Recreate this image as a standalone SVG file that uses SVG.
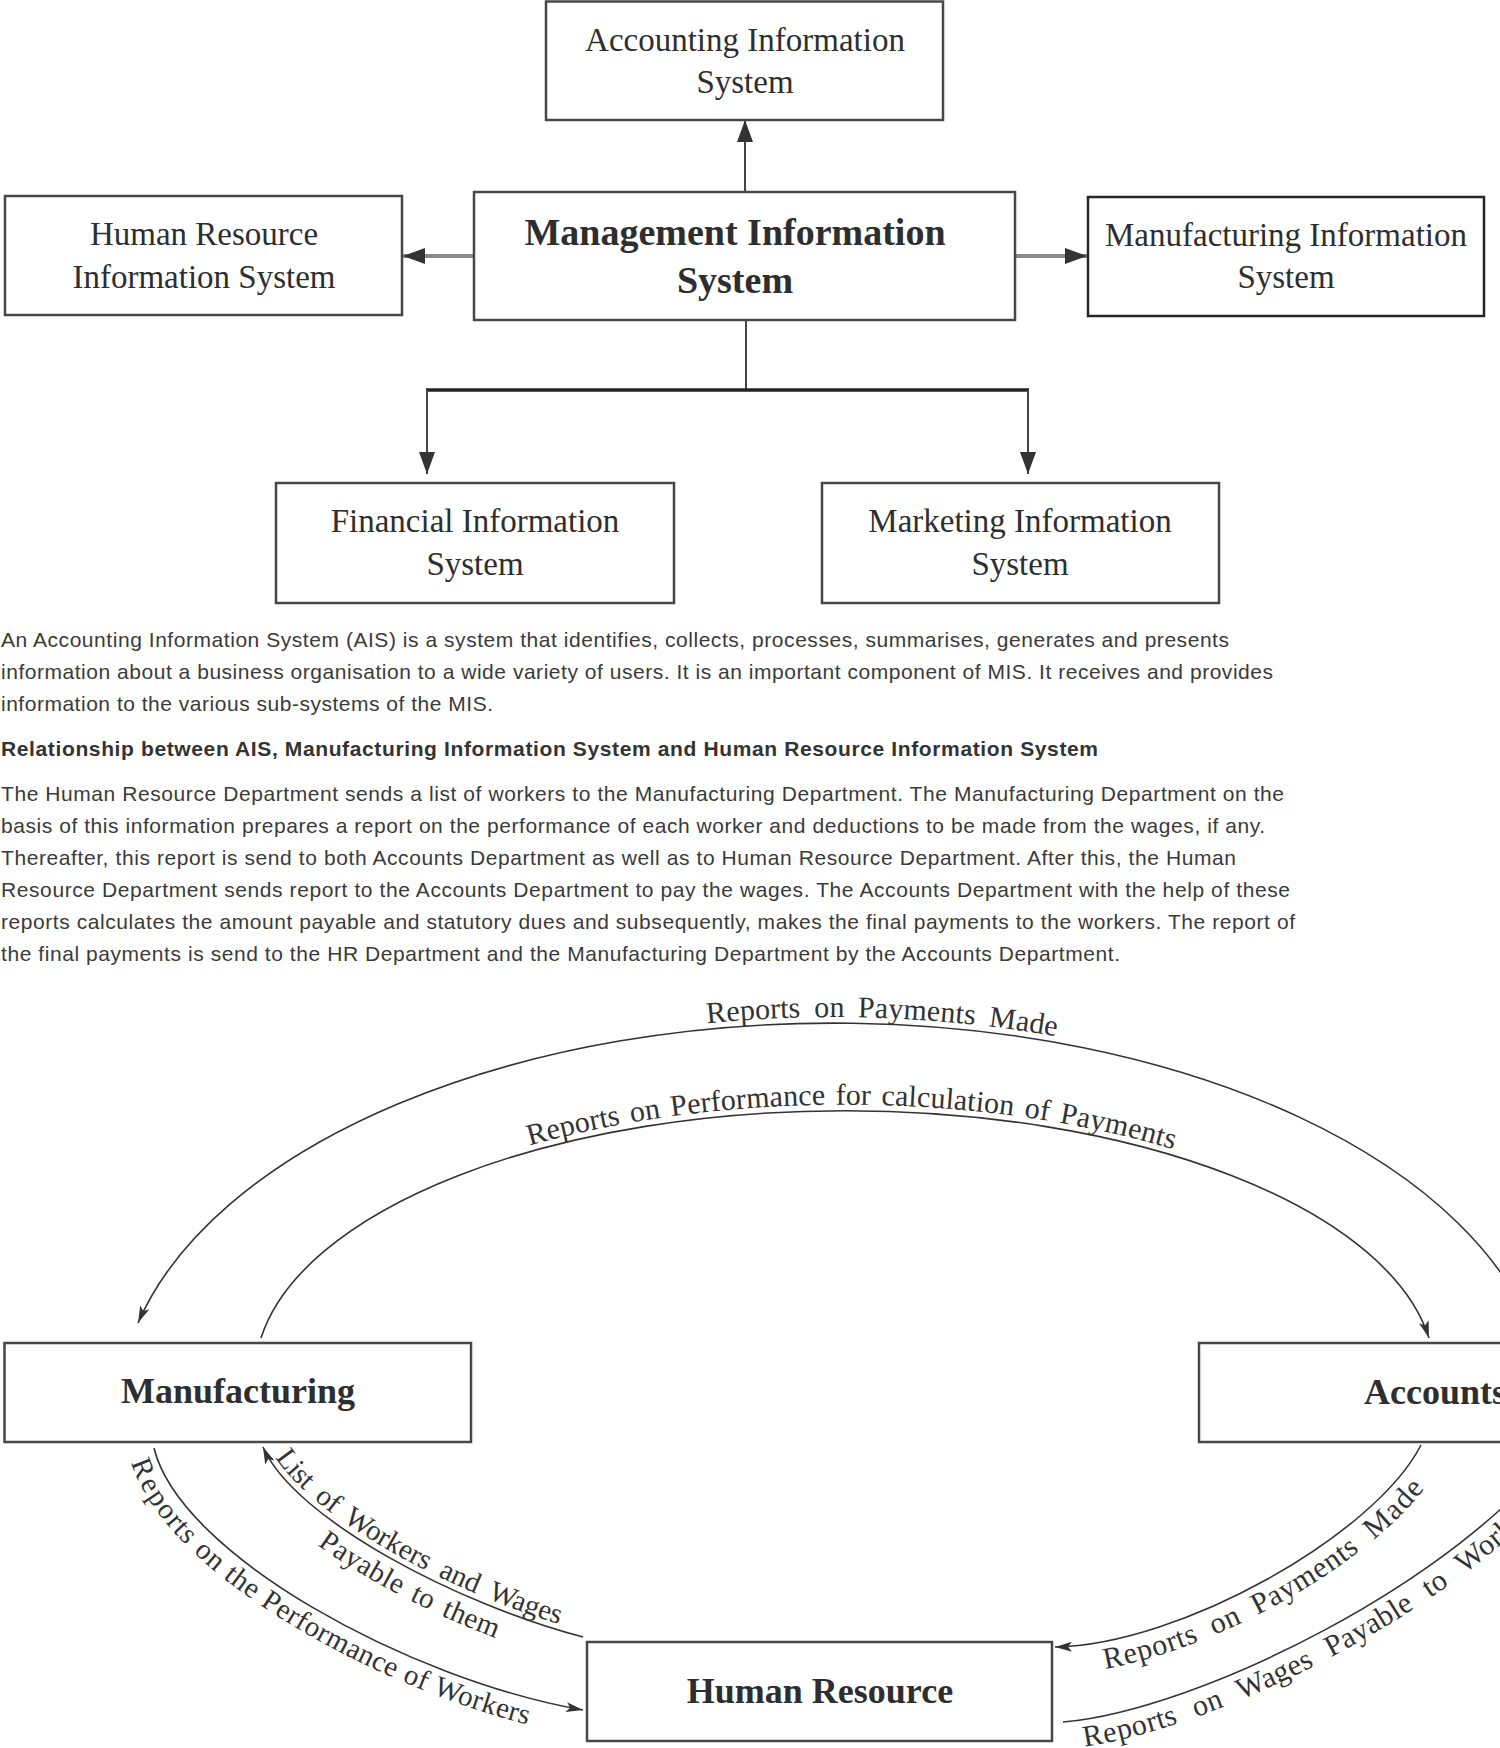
<svg xmlns="http://www.w3.org/2000/svg" width="1500" height="1748" viewBox="0 0 1500 1748">
<style>
.box{fill:#fff;stroke:#474747;stroke-width:2.5}
.bt{font-family:"Liberation Serif","Times New Roman",serif;font-size:33px;fill:#2e2e2e;text-anchor:middle}
.bold{font-weight:bold;font-size:38px}
.bb{font-family:"Liberation Serif","Times New Roman",serif;font-weight:bold;font-size:36px;fill:#2e2e2e;text-anchor:middle}
.p{font-family:"Liberation Sans",Arial,sans-serif;font-size:21px;fill:#3a3a3a}
.h{font-weight:bold;fill:#333}
.lbl{font-family:"Liberation Serif","Times New Roman",serif;font-size:29px;fill:#333;word-spacing:6px}
.lblr{font-family:"Liberation Serif","Times New Roman",serif;font-size:30px;fill:#333;word-spacing:10px}
.c{fill:none;stroke:#333;stroke-width:1.6}
.ln{stroke:#444;stroke-width:2;fill:none}
.gl{stroke:#8a8a8a;stroke-width:4;fill:none}
</style>
<defs>
<marker id="ah" viewBox="0 0 22 16" refX="22" refY="8" markerWidth="22" markerHeight="16" markerUnits="userSpaceOnUse" orient="auto"><path d="M0,0 L22,8 L0,16 z" fill="#333"/></marker>
<marker id="as" viewBox="0 0 17 10" refX="17" refY="5" markerWidth="17" markerHeight="10" markerUnits="userSpaceOnUse" orient="auto"><path d="M0,0 L17,5 L0,10 L4,5 z" fill="#333"/></marker>
<path id="tpOuter" d="M 138 1323 A 715 390 0 0 1 1537 1343"/>
<path id="tpInner" d="M 261 1338 A 590 265 0 0 1 1429 1338"/>
<path id="tpList" d="M 263 1447 C 295 1520 460 1605 583 1637"/>
<path id="tpPerf" d="M 154 1448 C 180 1555 410 1680 583 1710"/>
<path id="tpPay" d="M 1055 1647 C 1180 1645 1375 1535 1421 1445"/>
<path id="tpWages" d="M 1063 1722 C 1200 1710 1460 1580 1560 1445"/>
</defs>
<rect width="1500" height="1748" fill="#fff"/>

<g id="connectors">
<line class="ln" x1="745" y1="192" x2="745" y2="120" marker-end="url(#ah)"/>
<line class="gl" x1="474" y1="256" x2="403" y2="256" marker-end="url(#ah)"/>
<line class="gl" x1="1015" y1="256" x2="1087" y2="256" marker-end="url(#ah)"/>
<line class="ln" x1="746" y1="320" x2="746" y2="390"/>
<line x1="426" y1="390" x2="1029" y2="390" stroke="#222" stroke-width="3.5"/>
<line class="ln" x1="427" y1="390" x2="427" y2="474" marker-end="url(#ah)"/>
<line class="ln" x1="1028" y1="390" x2="1028" y2="474" marker-end="url(#ah)"/>

<path class="c" d="M 1537 1343 A 715 390 0 0 0 138 1323" marker-end="url(#as)"/>
<path class="c" d="M 261 1338 A 590 265 0 0 1 1429 1338" marker-end="url(#as)"/>
<path class="c" d="M 583 1637 C 460 1605 295 1520 263 1447" marker-end="url(#as)"/>
<path class="c" d="M 154 1448 C 180 1555 410 1680 583 1710" marker-end="url(#as)"/>
<path class="c" d="M 1421 1445 C 1375 1535 1180 1645 1055 1647" marker-end="url(#as)"/>
<path class="c" d="M 1063 1722 C 1200 1710 1460 1580 1560 1445" marker-end="url(#as)"/>

<text class="lblr" style="word-spacing:6px"><textPath href="#tpOuter" startOffset="842" text-anchor="middle"><tspan dy="-6">Reports on Payments Made</tspan></textPath></text>
<text class="lblr" style="word-spacing:3px"><textPath href="#tpInner" startOffset="50.5%" text-anchor="middle"><tspan dy="-6">Reports on Performance for calculation of Payments</tspan></textPath></text>
<text class="lbl"><textPath href="#tpList" startOffset="16"><tspan dy="-6">List of Workers and Wages</tspan></textPath></text>
<text class="lbl" style="word-spacing:4px"><textPath href="#tpList" startOffset="104"><tspan dy="28">Payable to them</tspan></textPath></text>
<text class="lbl" style="word-spacing:1px"><textPath href="#tpPerf" startOffset="5"><tspan dy="26">Reports on the Performance of Workers</tspan></textPath></text>
<text class="lblr" style="word-spacing:8px"><textPath href="#tpPay" startOffset="45"><tspan dy="27">Reports on Payments Made</tspan></textPath></text>
<text class="lblr"><textPath href="#tpWages" startOffset="17"><tspan dy="27">Reports on Wages Payable to Workers</tspan></textPath></text>
</g>

<g id="ais">
<rect class="box" x="546" y="1.5" width="397" height="118.5"/>
<text class="bt" x="745" y="51">Accounting Information</text>
<text class="bt" x="745" y="93">System</text>
</g>
<g id="mis">
<rect class="box" x="474" y="192" width="541" height="128"/>
<text class="bt bold" x="735" y="245">Management Information</text>
<text class="bt bold" x="735" y="293">System</text>
</g>
<g id="hris">
<rect class="box" x="5" y="196" width="397" height="119"/>
<text class="bt" x="204" y="245">Human Resource</text>
<text class="bt" x="204" y="288">Information System</text>
</g>
<g id="mfis">
<rect class="box" x="1088" y="197" width="396" height="119" style="stroke:#262626"/>
<text class="bt" x="1286" y="246">Manufacturing Information</text>
<text class="bt" x="1286" y="288">System</text>
</g>
<g id="fis">
<rect class="box" x="276" y="483" width="398" height="120"/>
<text class="bt" x="475" y="532">Financial Information</text>
<text class="bt" x="475" y="575">System</text>
</g>
<g id="mkis">
<rect class="box" x="822" y="483" width="397" height="120"/>
<text class="bt" x="1020" y="532">Marketing Information</text>
<text class="bt" x="1020" y="575">System</text>
</g>

<g id="text-block">
<text class="p" x="1" y="647" textLength="1228" lengthAdjust="spacing">An Accounting Information System (AIS) is a system that identifies, collects, processes, summarises, generates and presents</text>
<text class="p" x="1" y="679" textLength="1272" lengthAdjust="spacing">information about a business organisation to a wide variety of users. It is an important component of MIS. It receives and provides</text>
<text class="p" x="1" y="711" textLength="492" lengthAdjust="spacing">information to the various sub-systems of the MIS.</text>
<text class="p h" x="1" y="756" textLength="1097" lengthAdjust="spacing">Relationship between AIS, Manufacturing Information System and Human Resource Information System</text>
<text class="p" x="1" y="801" textLength="1283" lengthAdjust="spacing">The Human Resource Department sends a list of workers to the Manufacturing Department. The Manufacturing Department on the</text>
<text class="p" x="1" y="833" textLength="1264" lengthAdjust="spacing">basis of this information prepares a report on the performance of each worker and deductions to be made from the wages, if any.</text>
<text class="p" x="1" y="865" textLength="1235" lengthAdjust="spacing">Thereafter, this report is send to both Accounts Department as well as to Human Resource Department. After this, the Human</text>
<text class="p" x="1" y="897" textLength="1289" lengthAdjust="spacing">Resource Department sends report to the Accounts Department to pay the wages. The Accounts Department with the help of these</text>
<text class="p" x="1" y="929" textLength="1294" lengthAdjust="spacing">reports calculates the amount payable and statutory dues and subsequently, makes the final payments to the workers. The report of</text>
<text class="p" x="1" y="961" textLength="1119" lengthAdjust="spacing">the final payments is send to the HR Department and the Manufacturing Department by the Accounts Department.</text>
</g>

<g id="manufacturing">
<rect class="box" x="4.5" y="1343" width="466.5" height="99"/>
<text class="bb" x="238" y="1403">Manufacturing</text>
</g>
<g id="accounts">
<rect class="box" x="1199" y="1343" width="472" height="99"/>
<text class="bb" x="1364" y="1404" style="text-anchor:start">Accounts</text>
</g>
<g id="human-resource">
<rect class="box" x="587" y="1642" width="465" height="99"/>
<text class="bb" x="820" y="1703">Human Resource</text>
</g>
</svg>
